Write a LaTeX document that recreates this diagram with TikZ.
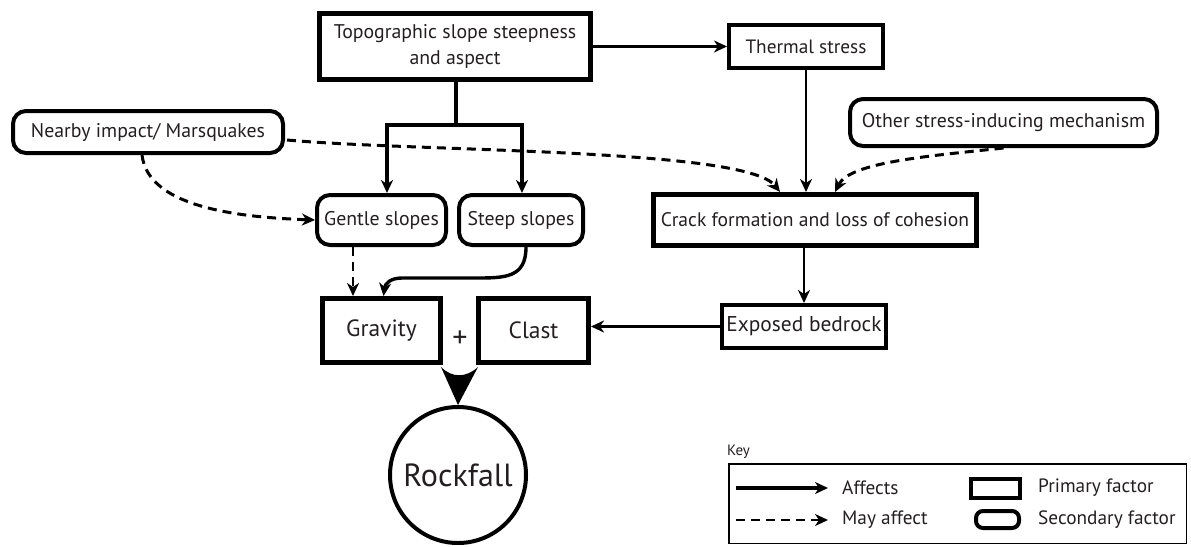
\documentclass[tikz,border=0pt]{standalone}
\usepackage{fontspec}
\setmainfont{PT Sans}
\usetikzlibrary{arrows.meta,calc}
\definecolor{ink}{HTML}{231F20}
\begin{document}
\begin{tikzpicture}[x=1pt,y=-1pt,
  every node/.style={text=ink},
  prim/.style={draw=black, line width=5pt, rectangle, align=center, inner sep=0pt,
    font=\fontsize{19.8}{26}\selectfont},
  sec/.style={draw=black, line width=4pt, rectangle, rounded corners=13pt, inner sep=0pt,
    font=\fontsize{19.8}{22}\selectfont},
  tipA/.tip={Stealth[length=13pt,width=12pt,inset=4pt]},
  aff/.style={draw=black, line width=2.6pt, -tipA},
  may/.style={draw=black, line width=3pt, dash pattern=on 9pt off 6pt, -tipA},
  keytxt/.style={anchor=west, inner sep=0pt, font=\fontsize{19.3}{22}\selectfont},
]
\useasboundingbox (0,0) rectangle (1191,546);

% primary factors
\node[prim, minimum width=271pt, minimum height=66pt] (topo) at (455,46.5)
  {Topographic slope steepness\\and aspect};
\node[prim, line width=4pt, minimum width=154pt, minimum height=43pt, font=\fontsize{19.3}{22}\selectfont] (thermal) at (806,46.5)
  {Thermal stress};
\node[prim, minimum width=323pt, minimum height=51pt, font=\fontsize{19.6}{22}\selectfont] (crack) at (815,220)
  {Crack formation and loss of cohesion};
\node[prim, minimum width=118pt, minimum height=64pt, font=\fontsize{23.5}{26}\selectfont] (gravity) at (381.5,330.5) {Gravity};
\node[prim, minimum width=110pt, minimum height=64pt, font=\fontsize{23.5}{26}\selectfont] (clast) at (533.5,330.5) {Clast};
\node[prim, line width=4pt, minimum width=164pt, minimum height=43pt, font=\fontsize{21.4}{22}\selectfont] (exposed) at (804,326.5)
  {Exposed bedrock};

% secondary factors
\node[sec, minimum width=270pt, minimum height=42pt] (nearby) at (148,132)
  {Nearby impact/ Marsquakes};
\node[sec, minimum width=307pt, minimum height=47pt] (other) at (1003.5,122.5)
  {Other stress-inducing mechanism};
\node[sec, minimum width=129pt, minimum height=50pt] (gentle) at (381.5,220) {Gentle slopes};
\node[sec, minimum width=124pt, minimum height=50pt] (steep) at (521,220) {Steep slopes};

% result
\node[draw=black, circle, line width=4pt, minimum size=136pt, inner sep=0pt,
  font=\fontsize{32}{34}\selectfont] (rock) at (458,475) {Rockfall};
\node[inner sep=0pt, font=\fontsize{30}{30}\selectfont] (plus) at (460,339) {+};

% combining arrowhead
\fill[black] ($(gravity.south east)+(-2,2)$) .. controls (452,378) and (466,378) .. ($(clast.south west)+(2,2)$)
  -- (rock.north) -- cycle;

% topographic branches
\coordinate (split) at (456,125);
\coordinate (bl) at (387,125);
\coordinate (br) at (522,125);
\draw[black, line width=3.6pt] (topo.south -| split) -- (split);
\draw[black, line width=3.6pt, line cap=rect] (bl) -- (br);
\draw[aff, line width=3.6pt] (bl) -- (bl |- gentle.north);
\draw[aff, line width=3.6pt] (br) -- (br |- steep.north);

% solid connectors
\draw[aff] (topo.east) -- (thermal.west);
\draw[aff] (thermal.south) -- (thermal.south |- crack.north);
\draw[aff] (exposed.north |- crack.south) -- (exposed.north);
\draw[aff] (exposed.west) -- (exposed.west -| clast.east);
\draw[aff, line width=3.4pt] ($(steep.south)+(5,0)$) .. controls (526,278) and (505,278) .. (475,278)
  -- (402,278) .. controls (390,278) and (385,284) .. ($(gravity.north)+(2,0)$);

% dashed connectors
\coordinate (gd) at ($(gentle.south)+(-28.5,0)$);
\draw[may, line width=2.6pt] (gd) -- (gd |- gravity.north);
\draw[may] ($(nearby.east)+(2,8)$) .. controls (420,152) and (745,148) .. ($(crack.north)+(-35,0)$);
\draw[may] (other.south) .. controls (930,156) and (850,162) .. ($(crack.north)+(20,0)$);
\draw[may] ($(nearby.south)+(-6,0)$) .. controls (148,205) and (230,217) .. (gentle.west);

% key
\node[anchor=west, inner sep=0pt, font=\fontsize{15}{18}\selectfont] (keylabel) at (727,452) {Key};
\node[draw=black, line width=1.5pt, minimum width=457.5pt, minimum height=79.5pt, inner sep=0pt] (keybox) at (957.5,503.5) {};
\coordinate (ka0) at (736,488);
\coordinate (ka1) at (828,488);
\coordinate (kb0) at (736,520);
\coordinate (kb1) at (828,520);
\draw[aff, line width=3.4pt] (ka0) -- (ka1);
\draw[may, line width=2.6pt] (kb0) -- (kb1);
\node[keytxt] (kaff) at (842,488) {Affects};
\node[keytxt] (kmay) at (842,520) {May affect};
\node[draw=black, line width=4pt, minimum width=49pt, minimum height=19pt, inner sep=0pt] (kprim) at (995.5,488.5) {};
\node[draw=black, line width=4pt, rounded corners=7pt, minimum width=43pt, minimum height=17pt, inner sep=0pt] (ksec) at (997.5,519.5) {};
\node[keytxt] (kprimt) at (1038,488) {Primary factor};
\node[keytxt] (ksect) at (1038,520) {Secondary factor};
\end{tikzpicture}
\end{document}
